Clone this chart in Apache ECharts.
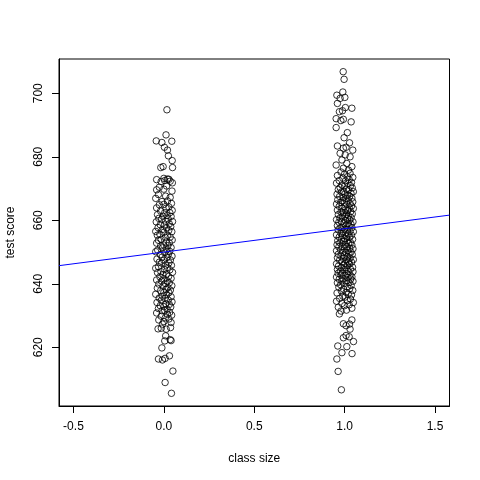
<!DOCTYPE html>
<html>
<head>
<meta charset="utf-8">
<script src="https://cdn.jsdelivr.net/npm/echarts@6/dist/echarts.min.js"></script>
<style>
  html, body { margin: 0; padding: 0; background: #fff; }
  #chart { width: 480px; height: 480px; }
</style>
</head>
<body>
<div id="chart"></div>
<script>
// class size dummy (0 = large, 1 = small) and jitter/score pairs
const classValues = [0, 1];

const largeClassPoints = [
  [0.017, 694.8], [0.012, 686.9], [-0.042, 685.0], [-0.011, 684.5], [0.044, 684.9], [0.003, 683.0],
  [0.02, 682.1], [0.025, 680.3], [0.046, 678.8], [-0.017, 676.6], [-0.004, 676.9], [0.048, 676.6],
  [-0.04, 672.8], [-0.015, 672.2], [0.005, 672.5], [0.02, 673.0], [0.035, 672.3], [0.047, 671.8],
  [0.0, 673.2], [0.028, 672.9], [-0.04, 669.6], [0.0, 669.8], [0.045, 669.2], [-0.025, 670.4], [0.015, 670.8],
  [-0.03, 668.1], [0.01, 667.6], [0.035, 667.2], [-0.045, 666.9], [0.02, 666.1], [-0.01, 665.9],
  [0.042, 665.3], [0.0, 665.0], [-0.025, 664.9], [0.028, 664.2], [-0.04, 663.9], [0.012, 663.8],
  [0.046, 663.1], [-0.018, 662.9], [0.005, 662.4], [0.033, 662.4], [-0.035, 661.8], [0.018, 661.5],
  [-0.005, 661.3], [0.04, 661.2], [-0.028, 660.6], [0.024, 660.4], [-0.012, 660.3], [0.01, 659.7],
  [0.048, 659.6], [-0.042, 659.5], [0.03, 658.9], [-0.02, 658.6], [0.003, 658.5], [0.038, 658.0],
  [-0.032, 657.7], [0.015, 657.6], [-0.008, 657.1], [0.027, 656.8], [-0.045, 656.5], [0.044, 656.4],
  [0.0, 656.2], [-0.022, 655.6], [0.02, 655.3], [-0.036, 655.3], [0.035, 654.7], [0.008, 654.6],
  [-0.015, 654.0], [0.046, 653.8], [-0.03, 653.7], [0.012, 653.1], [0.03, 652.9], [-0.04, 652.8],
  [0.0, 652.2], [0.022, 652.0], [-0.018, 651.9], [0.04, 651.4], [-0.008, 651.3], [0.016, 650.7],
  [-0.034, 650.6], [0.032, 650.2], [-0.045, 650.1], [0.005, 649.8], [0.025, 649.3], [-0.02, 649.2],
  [0.045, 648.7], [-0.01, 648.4], [0.018, 648.3], [-0.038, 647.8], [0.036, 647.5], [0.0, 647.4],
  [-0.025, 646.8], [0.028, 646.6], [-0.012, 646.5], [0.01, 645.9], [0.042, 645.8], [-0.03, 645.4],
  [0.02, 645.1], [-0.045, 644.9], [0.004, 644.5], [0.033, 644.4], [-0.016, 643.8], [0.048, 643.6],
  [-0.035, 643.5], [0.014, 643.0], [-0.005, 642.9], [0.026, 642.3], [-0.022, 642.2], [0.04, 641.7],
  [0.0, 641.6], [-0.04, 641.2], [0.018, 640.9], [-0.012, 640.8], [0.03, 640.3], [0.008, 640.1],
  [-0.028, 639.9], [0.044, 639.4], [-0.004, 639.3], [0.022, 638.8], [-0.036, 638.6], [0.012, 638.2],
  [0.036, 638.0], [-0.018, 637.8], [0.0, 637.3], [0.028, 637.2], [-0.045, 636.7], [0.016, 636.5],
  [-0.008, 636.1], [0.04, 635.9], [-0.026, 635.5], [0.006, 635.4], [0.024, 634.9], [-0.014, 634.8],
  [0.045, 634.3], [-0.038, 634.1], [0.01, 633.7], [0.03, 633.5], [-0.02, 633.1], [0.0, 632.8],
  [0.038, 632.7], [-0.03, 632.2], [0.018, 632.0], [0.005, 631.6], [-0.01, 631.5], [0.032, 631.0],
  [-0.04, 630.8], [0.02, 630.4], [0.043, 630.1], [-0.015, 629.8], [0.008, 629.3], [0.028, 628.9],
  [-0.028, 628.6], [0.0, 628.1], [0.04, 627.8], [-0.008, 627.3],
  [-0.032, 625.8], [-0.014, 626.0], [0.013, 625.7], [0.037, 626.2], [0.01, 623.6], [0.035, 622.4],
  [0.005, 622.0], [0.04, 622.1], [-0.011, 619.8], [-0.03, 616.3], [-0.008, 616.0], [0.007, 616.5],
  [0.031, 617.3], [0.05, 612.5], [0.007, 608.9], [0.042, 605.5]
];

const smallClassPoints = [
  [-0.008, 706.8], [-0.003, 704.4], [-0.043, 699.4], [-0.025, 698.4], [-0.01, 700.4], [0.001, 698.7],
  [-0.04, 696.8], [-0.029, 694.2], [-0.012, 694.5], [0.004, 695.5], [0.04, 695.3], [-0.047, 692.0],
  [-0.021, 691.4], [-0.007, 691.8], [0.036, 691.0], [-0.047, 689.2], [0.015, 687.6], [-0.003, 686.0],
  [0.027, 684.4], [-0.04, 683.4], [-0.007, 682.7], [0.008, 683.0], [0.045, 682.1], [-0.025, 681.1],
  [0.003, 680.6], [0.03, 680.0], [-0.047, 677.4], [-0.015, 679.0], [0.012, 677.9], [0.04, 676.9],
  [-0.007, 676.4], [0.021, 675.8],
  [-0.02, 675.2], [0.03, 674.8], [0.0, 674.6], [-0.04, 674.1], [0.015, 673.7], [0.045, 673.5],
  [-0.01, 673.3], [0.025, 672.8], [-0.03, 672.5], [0.005, 672.4], [0.038, 671.9], [-0.045, 671.7],
  [0.018, 671.6], [-0.015, 671.1], [0.032, 670.9], [0.0, 670.8], [-0.025, 670.3], [0.042, 670.2],
  [0.01, 669.8], [-0.035, 669.7], [0.022, 669.6], [-0.005, 669.1], [0.048, 669.0], [-0.018, 668.9],
  [0.035, 668.5], [0.002, 668.3], [-0.042, 668.2], [0.015, 667.8], [0.028, 667.6], [-0.028, 667.5],
  [-0.008, 667.1], [0.04, 667.0], [0.008, 666.9], [-0.038, 666.5], [0.02, 666.3], [-0.012, 666.2],
  [0.045, 665.8], [0.0, 665.7], [-0.022, 665.6], [0.03, 665.2], [-0.045, 665.1], [0.012, 665.0],
  [0.038, 664.5], [-0.03, 664.4], [-0.002, 664.3], [0.025, 663.9], [-0.015, 663.8], [0.048, 663.7],
  [0.005, 663.3], [-0.04, 663.2], [0.018, 663.1], [0.033, 662.7], [-0.02, 662.6], [-0.008, 662.4],
  [0.042, 662.0], [0.01, 661.9], [-0.035, 661.8], [0.022, 661.4], [-0.012, 661.3], [0.0, 661.2],
  [0.036, 660.8], [-0.026, 660.7], [0.015, 660.6], [-0.045, 660.2], [0.028, 660.1], [0.004, 660.0],
  [-0.018, 659.6], [0.046, 659.5], [-0.032, 659.4], [0.02, 659.0], [-0.005, 658.9], [0.035, 658.8],
  [0.008, 658.4], [-0.04, 658.3], [0.024, 658.2], [-0.015, 657.8], [0.04, 657.7], [-0.025, 657.6],
  [0.0, 657.2], [0.015, 657.1], [-0.036, 657.0], [0.03, 656.6], [-0.008, 656.5], [0.048, 656.4],
  [0.006, 656.0], [-0.02, 655.9], [0.02, 655.8], [-0.045, 655.4], [0.038, 655.3], [-0.012, 655.2],
  [0.01, 654.8], [-0.03, 654.7], [0.027, 654.6], [0.0, 654.2], [-0.018, 654.1], [0.044, 654.0],
  [-0.038, 653.6], [0.014, 653.5], [-0.005, 653.4], [0.032, 653.0], [-0.026, 652.9], [0.022, 652.8],
  [0.004, 652.4], [-0.042, 652.3], [0.04, 652.2], [-0.014, 651.8], [0.012, 651.7], [-0.032, 651.6],
  [0.028, 651.2], [-0.002, 651.1], [0.046, 651.0], [-0.022, 650.6], [0.018, 650.5], [-0.045, 650.4],
  [0.035, 650.0], [0.006, 649.9], [-0.01, 649.8], [0.024, 649.4], [-0.035, 649.3], [0.042, 649.2],
  [0.0, 648.8], [-0.02, 648.7], [0.015, 648.6], [-0.04, 648.2], [0.03, 648.1], [-0.008, 648.0],
  [0.048, 647.6], [0.01, 647.5], [-0.028, 647.4], [0.022, 647.0], [-0.015, 646.9], [0.038, 646.8],
  [0.002, 646.4], [-0.045, 646.3], [0.026, 646.2], [-0.005, 645.8], [0.016, 645.7], [-0.034, 645.6],
  [0.044, 645.2], [-0.018, 645.1], [0.008, 645.0], [0.032, 644.6], [-0.04, 644.5], [0.0, 644.4],
  [-0.024, 644.0], [0.02, 643.9], [0.046, 643.8], [-0.012, 643.4], [-0.036, 643.3], [0.012, 643.2],
  [0.03, 642.8], [-0.02, 642.7], [0.004, 642.6], [0.04, 642.2], [-0.045, 642.1], [0.018, 642.0],
  [-0.008, 641.6], [0.034, 641.5], [-0.03, 641.4], [0.01, 641.0], [-0.015, 640.9], [0.046, 640.8],
  [0.024, 640.4], [-0.04, 640.3], [0.0, 640.2], [-0.022, 639.7], [0.036, 639.5], [0.014, 639.1],
  [-0.032, 638.9], [0.028, 638.5], [-0.006, 638.3], [0.045, 637.9], [-0.018, 637.7], [0.008, 637.3],
  [-0.042, 637.1], [0.02, 636.7], [0.038, 636.5], [-0.01, 636.1], [0.002, 635.8], [-0.028, 635.4],
  [0.032, 635.2], [0.015, 634.7], [-0.045, 634.5], [0.048, 634.1], [-0.015, 633.8], [0.025, 633.4],
  [0.0, 633.1], [-0.035, 632.6], [0.04, 632.3], [0.01, 631.7], [-0.02, 631.4],
  [-0.029, 630.5], [0.04, 628.6], [0.027, 627.3], [-0.007, 627.4], [0.008, 626.8], [0.03, 625.7],
  [-0.007, 623.0], [0.008, 623.7], [0.025, 623.3], [0.049, 621.8], [-0.038, 620.4], [0.012, 620.2],
  [-0.015, 618.3], [0.041, 618.0], [-0.043, 616.3], [-0.036, 612.4], [-0.018, 606.6]
];

// fitted line: score = intercept + slope * D
const fitIntercept = 649.98;
const fitSlope = 7.37;

const xTicks = [-0.5, 0, 0.5, 1, 1.5];
const yTicks = [620, 640, 660, 680, 700];
const xRange = [-0.58, 1.58];
const yRange = [601.5, 710.8];

const toSeriesData = (points, classValue) => points.map(p => [classValue + p[0], p[1]]);

const fitLine = xRange.map(x => [x, fitIntercept + fitSlope * x]);

const font = "Liberation Sans";
const chart = echarts.init(document.getElementById("chart"), null, { renderer: "canvas" });

const pointStyle = {
  type: "scatter",
  symbol: "circle",
  symbolSize: 6.5,
  itemStyle: { color: "rgba(0,0,0,0)", borderColor: "#000", borderWidth: 1 },
  emphasis: { disabled: true },
  silent: true
};

chart.setOption({
  animation: false,
  grid: {
    left: 59, right: 30.5, top: 59, bottom: 74,
    containLabel: false,
    outerBoundsMode: "none",
    show: true, borderColor: "#000", borderWidth: 1, backgroundColor: "transparent"
  },
  xAxis: {
    type: "value",
    min: xRange[0],
    max: xRange[1],
    name: "class size",
    nameLocation: "middle",
    nameGap: 47,
    nameTextStyle: { fontFamily: font, fontSize: 12, color: "#000" },
    splitLine: { show: false },
    axisLine: { show: true, onZero: false, lineStyle: { color: "#000" } },
    axisTick: { show: true, customValues: xTicks, length: 7, lineStyle: { color: "#000" } },
    axisLabel: {
      customValues: xTicks,
      margin: 15,
      fontFamily: font, fontSize: 12, color: "#000",
      formatter: v => v.toFixed(1)
    }
  },
  yAxis: {
    type: "value",
    min: yRange[0],
    max: yRange[1],
    name: "test score",
    nameLocation: "middle",
    nameGap: 42,
    nameRotate: 90,
    nameTextStyle: { fontFamily: font, fontSize: 12, color: "#000" },
    splitLine: { show: false },
    axisLine: { show: true, onZero: false, lineStyle: { color: "#000" } },
    axisTick: { show: true, customValues: yTicks, length: 7, lineStyle: { color: "#000" } },
    axisLabel: {
      customValues: yTicks,
      rotate: 90,
      margin: 14,
      fontFamily: font, fontSize: 12, color: "#000"
    }
  },
  series: [
    Object.assign({ data: toSeriesData(largeClassPoints, classValues[0]) }, pointStyle),
    Object.assign({ data: toSeriesData(smallClassPoints, classValues[1]) }, pointStyle),
    {
      type: "line",
      data: fitLine,
      showSymbol: false,
      lineStyle: { color: "#0000ff", width: 1 },
      silent: true
    }
  ]
});
</script>
</body>
</html>
